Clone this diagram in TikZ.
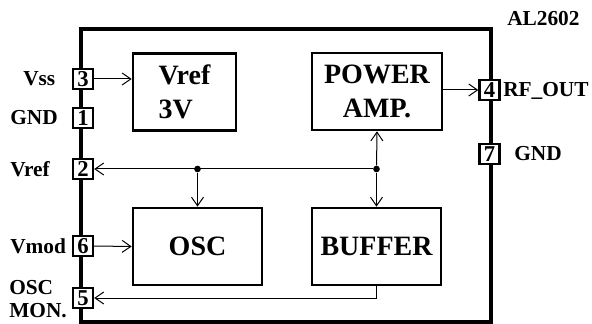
\documentclass[tikz,border=0pt]{standalone}
\usepackage{fontspec}
\setmainfont{Liberation Serif}
\usetikzlibrary{arrows.meta}

\tikzset{
  block/.style={draw,line width=2pt,align=center,inner sep=0pt,
    minimum height=57.75pt,font=\fontsize{21}{25}\selectfont\bfseries},
  pinbox/.style={draw,fill=white,line width=1.8pt,minimum size=15pt,inner sep=0pt,
    font=\fontsize{17}{17}\selectfont\bfseries},
  lbl/.style={anchor=west,inner sep=0pt,align=left,
    font=\fontsize{16}{17}\selectfont\bfseries},
  wire/.style={line width=0.75pt,-{Straight Barb[length=6.5pt,width=9pt]}},
  dot/.style={circle,fill,inner sep=0pt,minimum size=5pt},
}

\begin{document}
\begin{tikzpicture}[x=0.75pt,y=-0.75pt]
\useasboundingbox (0,0) rectangle (592,324);
% chip outline
\draw[line width=3pt] (81,29) rectangle (491,322);
\node[lbl] (chip) at (507,19) {AL2602};

% blocks
\node[block,minimum width=77.25pt,align=left] (vref) at (184.5,92) {Vref\\3V};
\node[block,minimum width=97.5pt] (pamp) at (377,91.5) {POWER\\AMP.};
\node[block,minimum width=96.75pt] (osc) at (197.5,246.5) {OSC};
\node[block,minimum width=96.75pt] (buffer) at (376.5,246.5) {BUFFER};

% pins
\node[pinbox] (p3) at (83,79) {3};
\node[pinbox] (p1) at (83,118) {1};
\node[pinbox] (p2) at (83,169) {2};
\node[pinbox] (p6) at (83,246) {6};
\node[pinbox] (p5) at (83,298) {5};
\node[pinbox] (p4) at (489.5,90) {4};
\node[pinbox] (p7) at (489.5,154) {7};

% pin names
\node[lbl] (lvss) at (23,79) {Vss};
\node[lbl] (lgnda) at (10,118) {GND};
\node[lbl] (lvref) at (10,169) {Vref};
\node[lbl] (lvmod) at (10,246) {Vmod};
\node[lbl] (lmon) at (9,299) {OSC\\MON.};
\node[lbl] (lrf) at (503,91) {RF\_OUT};
\node[lbl] (lgndb) at (514,154) {GND};

% signal paths
\node[dot] (j1) at (osc.north |- p2) {};
\node[dot] (j2) at (buffer.north |- p2) {};
\draw[wire] (p3.east) -- (p3.east -| vref.west);
\draw[wire] (pamp.east |- p4) -- (p4.west);
\draw[wire] (j2) -- (p2.east);
\draw[wire] (j1) -- (osc.north);
\draw[wire] (j2) -- (pamp.south);
\draw[wire] (j2) -- (buffer.north);
\draw[wire] (p6.east) -- (osc.west);
\draw[wire] (buffer.south) |- (p5.east);
\end{tikzpicture}
\end{document}
